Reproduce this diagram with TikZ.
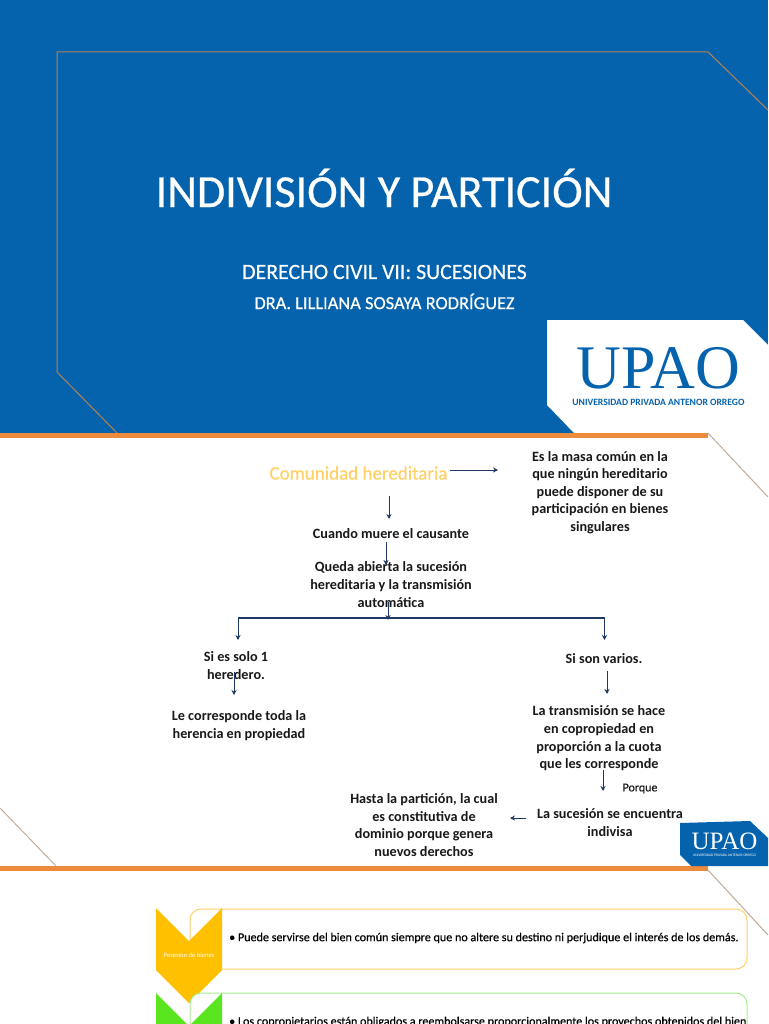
\documentclass[tikz,border=0pt]{standalone}
\usepackage{fontspec}
\setmainfont{Carlito}
\newfontfamily\logofont{Liberation Serif}
\newfontfamily\heavyfont[FakeBold=0.5]{Carlito}
\usetikzlibrary{arrows.meta}
\definecolor{upblue}{HTML}{0563AE}
\definecolor{barorange}{HTML}{ED8B3D}
\definecolor{framebrown}{HTML}{B5814F}
\definecolor{palebrown}{HTML}{C4AB98}
\definecolor{navy}{HTML}{1F3864}
\definecolor{amber}{HTML}{FFC000}
\definecolor{softamber}{HTML}{FFD166}
\definecolor{limeg}{HTML}{5AE61E}
\definecolor{softlime}{HTML}{A6EE8C}
\tikzset{
  body/.style={align=center,inner sep=0pt,font=\fontsize{14.2}{17.6}\selectfont\bfseries,text=black!90},
  arr/.style={draw=navy,line width=1pt,-{Stealth[length=5pt,width=5pt]}},
  busline/.style={draw=navy,line width=1.2pt},
  bar/.style={fill=barorange,draw=none},
  frameline/.style={draw=framebrown,line width=1pt},
  paleline/.style={draw=palebrown,line width=1pt},
  whitetext/.style={text=white,inner sep=0pt},
  rowbox/.style={rounded corners=11pt,fill=white,line width=1pt},
  rowtext/.style={inner sep=0pt,anchor=west,font=\fontsize{12.1}{14}\heavyfont,text=black},
}
\begin{document}
\begin{tikzpicture}[x=1pt,y=-1pt]
\useasboundingbox (0,0) rectangle (768,1024);
\fill[white] (0,0) rectangle (768,1024);
% first slide
\fill[upblue] (0,0) rectangle (768,433);
\draw[frameline] (117,433) -- (57,372) -- (57,52) -- (708,52) -- (768,110);
\node[whitetext,font=\fontsize{46}{50}\heavyfont] (title) at (384,188) {INDIVISIÓN Y PARTICIÓN};
\node[whitetext,font=\fontsize{21.8}{24}\heavyfont] (sub) at (384.5,272) {DERECHO CIVIL VII: SUCESIONES};
\node[whitetext,font=\fontsize{18.4}{22}\heavyfont] (dra) at (384.5,301.5) {DRA. LILLIANA SOSAYA RODRÍGUEZ};
\fill[white] (547,320) -- (743,320) -- (768,345) -- (768,433) -- (574,433) -- (547,405) -- cycle;
\node[inner sep=0pt,text=upblue,font=\logofont\fontsize{62}{62}\selectfont] (logo) at (658.5,368) {UPAO};
\node[inner sep=0pt,text=upblue,font=\fontsize{9.6}{10}\selectfont\bfseries] (logosub) at (658.5,402.5) {UNIVERSIDAD PRIVADA ANTENOR ORREGO};
\fill[bar] (0,433) rectangle (708,438);
\draw[paleline] (708,433) -- (768,497);
% second slide
\draw[paleline] (0,808) -- (56,866);
\fill[bar] (0,866) rectangle (708,870.5);
\draw[paleline] (708,870) -- (768,935);
\fill[upblue] (680,823) -- (750,821) -- (768,838) -- (768,866) -- (691,866) -- (680,855) -- cycle;
\node[inner sep=0pt,text=white,font=\logofont\fontsize{25}{25}\selectfont] (logob) at (724.5,841) {UPAO};
\node[inner sep=0pt,text=white,font=\fontsize{3.6}{4}\selectfont] (logobsub) at (724.5,855) {UNIVERSIDAD PRIVADA ANTENOR ORREGO};
\node[inner sep=0pt,text=softamber,font=\fontsize{19}{20}\heavyfont] (com) at (358.5,473) {Comunidad hereditaria};
\node[body] (masa) at (600,492.5) {Es la masa común en la\\que ningún hereditario\\puede disponer de su\\participación en bienes\\singulares};
\node[body] (cuando) at (391,533.5) {Cuando muere el causante};
\node[body] (queda) at (391,584.5) {Queda abierta la sucesión\\hereditaria y la transmisión\\automática};
\node[body] (solo) at (236,665.5) {Si es solo 1\\heredero.};
\node[body] (varios) at (604,658.5) {Si son varios.};
\node[body] (toda) at (239,725.5) {Le corresponde toda la\\herencia en propiedad};
\node[body] (trans) at (599,738.5) {La transmisión se hace\\en copropiedad en\\proporción a la cuota\\que les corresponde};
\node[inner sep=0pt,font=\fontsize{12}{13}\heavyfont,text=black!90] (porque) at (640,788.5) {Porque};
\node[body] (suc) at (610,822.5) {La sucesión se encuentra\\indivisa};
\node[body] (hasta) at (424,825) {Hasta la partición, la cual\\es constitutiva de\\dominio porque genera\\nuevos derechos};
\coordinate (hub) at (388,618);
\coordinate (busL) at (238,618);
\coordinate (busR) at (604.5,618);
\draw[arr] ([shift={(91.5,-3)}]com.center) -- ([shift={(-102,-22.5)}]masa.center);
\draw[arr] ([shift={(30.5,23)}]com.center) -- ([shift={(-2,-14.5)}]cuando.center);
\draw[arr] ([shift={(-5,8.5)}]cuando.center) -- ([shift={(-5,-19.5)}]queda.center);
\draw[arr] ([shift={(-3,17.5)}]queda.center) -- ([shift={(0,2)}]hub);
\draw[busline] (busL) -- (busR);
\draw[arr] (busL) -- ([shift={(2,-25.5)}]solo.center);
\draw[arr] (busR) -- ([shift={(0.5,-18.5)}]varios.center);
\draw[arr] ([shift={(-2,6.5)}]solo.center) -- ([shift={(-5,-30.5)}]toda.center);
\draw[arr] ([shift={(3,12.5)}]varios.center) -- ([shift={(8,-44.5)}]trans.center);
\draw[arr] ([shift={(4,31.5)}]trans.center) -- ([shift={(-7,-31.5)}]suc.center);
\draw[arr] ([shift={(-84,-4.5)}]suc.center) -- ([shift={(86,-7)}]hasta.center);
% third slide
\draw[rowbox,draw=softamber] (190,909) -- (747,909) -- (747,969) -- (190,969) -- cycle;
\fill[amber] (156,908) -- (189,941) -- (222,908) -- (222,970) -- (189,1003) -- (156,970) -- cycle;
\node[whitetext,font=\fontsize{6.6}{8}\selectfont] (pos) at (189,955) {Posesión de bienes};
\node[rowtext] (row1) at (229,938) {• Puede servirse del bien común siempre que no altere su destino ni perjudique el interés de los demás.};
\draw[rowbox,draw=softlime] (190,1060) -- (190,993) -- (747,993) -- (747,1060);
\fill[limeg] (156,993) -- (189,1026) -- (222,993) -- (222,1040) -- (156,1040) -- cycle;
\node[rowtext] (row2) at (229,1022) {• Los copropietarios están obligados a reembolsarse proporcionalmente los provechos obtenidos del bien};
\end{tikzpicture}
\end{document}
